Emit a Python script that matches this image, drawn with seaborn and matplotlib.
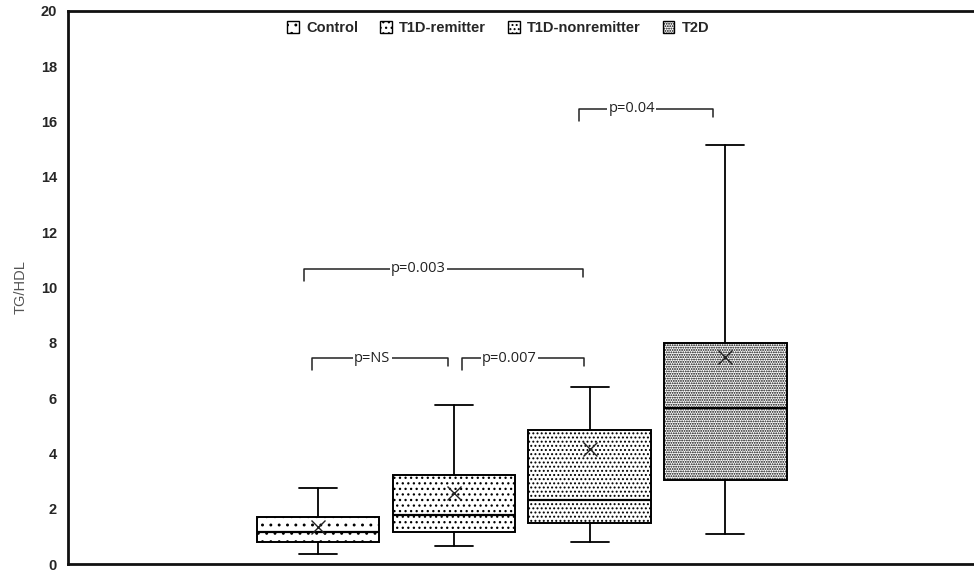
"""TG/HDL box plot by group with significance brackets."""
import matplotlib
matplotlib.use("Agg")
import matplotlib.pyplot as plt
from matplotlib.patches import Patch
import seaborn as sns

# summary stats
groups = ["Control", "T1D-remitter", "T1D-nonremitter", "T2D"]
q1 = [0.80, 1.16, 1.48, 3.04]
median = [1.16, 1.77, 2.31, 5.64]
q3 = [1.70, 3.22, 4.85, 7.99]
whis_lo = [0.36, 0.65, 0.80, 1.09]
whis_hi = [2.75, 5.75, 6.40, 15.15]
means = [1.34, 2.57, 4.16, 7.49]
hatches = ["..", "...", "....", "......."]

# significance brackets: (left x, right x, height, label, label x)
brackets = [
    (-0.04, 0.96, 7.45, "p=NS", 0.40),
    (1.06, 1.96, 7.45, "p=0.007", 1.41),
    (-0.10, 1.95, 10.67, "p=0.003", 0.74),
    (1.92, 2.91, 16.46, "p=0.04", 2.31),
]

sns.set_style("white")
plt.rcParams["font.family"] = ["Liberation Sans", "DejaVu Sans"]
plt.rcParams["hatch.linewidth"] = 0.9

fig = plt.figure(figsize=(9.74, 5.73), dpi=100)
ax = fig.add_axes([68 / 974, 9 / 573, 1 - 68 / 974, 553 / 573])

stats = [dict(label=g, q1=a, med=m, q3=b, whislo=lo, whishi=hi, mean=mu, fliers=[])
         for g, a, m, b, lo, hi, mu in zip(groups, q1, median, q3, whis_lo, whis_hi, means)]

bp = ax.bxp(stats, positions=range(len(groups)), widths=0.9, capwidths=0.28,
            showmeans=True, patch_artist=True, showfliers=False,
            boxprops=dict(edgecolor="black", linewidth=1.4),
            medianprops=dict(color="black", linewidth=1.6),
            whiskerprops=dict(color="black", linewidth=1.3),
            capprops=dict(color="black", linewidth=1.3),
            meanprops=dict(marker="x", markeredgecolor="#222222", markersize=10,
                           markeredgewidth=1.0))
for box, h in zip(bp["boxes"], hatches):
    box.set_facecolor("white")
    box.set_hatch(h)

# brackets with the label sitting on the bar
for xl, xr, y, label, xt in brackets:
    ax.plot([xl, xl, xr, xr], [y - 0.45, y, y, y - 0.3], color="#222222", lw=1.1)
    ax.text(xt, y, label, ha="center", va="center", fontsize=10.5,
            family=["Open Sans", "DejaVu Sans"], color="#222222",
            bbox=dict(facecolor="white", edgecolor="none", pad=1.0))

ax.set_xlim(-1.84, 4.83)
ax.set_ylim(0, 20)
ax.set_yticks(range(0, 21, 2))
ax.set_xticks([])
ax.tick_params(axis="y", length=0, pad=8, labelsize=10.5)
for t in ax.get_yticklabels():
    t.set_fontweight("bold")
ax.set_ylabel("TG/HDL", color="#555555", fontsize=10.5, labelpad=9)

for side in ["left", "top", "bottom"]:
    ax.spines[side].set_color("#111111")
    ax.spines[side].set_linewidth(2)
ax.spines["right"].set_visible(False)

handles = [Patch(facecolor="white", edgecolor="black", hatch=h, label=g)
           for g, h in zip(groups, hatches)]
ax.legend(handles=handles, loc="center", bbox_to_anchor=(0.475, 0.969), ncol=4,
          frameon=False, handlelength=0.8, handleheight=0.8,
          handletextpad=0.5, columnspacing=1.5, prop=dict(weight="bold", size=10.5))

fig.savefig("out.png", dpi=100)
